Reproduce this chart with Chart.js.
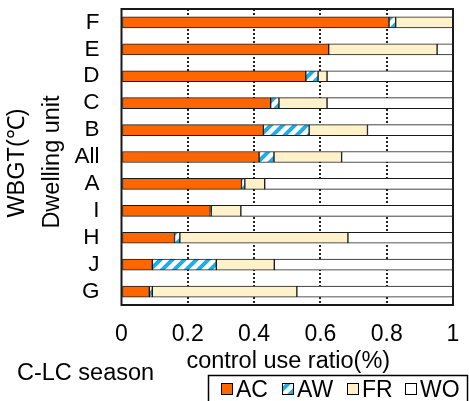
<!DOCTYPE html>
<html>
<head>
<meta charset="utf-8">
<script src="https://cdn.jsdelivr.net/npm/chart.js@4.4.1/dist/chart.umd.min.js"></script>
<style>
  html, body { margin: 0; padding: 0; background: #fff; }
</style>
</head>
<body>
<canvas id="ratioChart" width="469" height="401"></canvas>
<script>
// Dwelling units, top to bottom
const units = ['F', 'E', 'D', 'C', 'B', 'All', 'A', 'I', 'H', 'J', 'G'];
// control use ratio per mode
const acRatio = [0.807, 0.625, 0.556, 0.450, 0.428, 0.415, 0.362, 0.268, 0.160, 0.093, 0.084];
const awRatio = [0.020, 0.000, 0.037, 0.025, 0.138, 0.045, 0.010, 0.003, 0.016, 0.193, 0.009];
const frRatio = [0.173, 0.327, 0.027, 0.145, 0.176, 0.204, 0.060, 0.089, 0.507, 0.175, 0.436];
const woRatio = [0.000, 0.048, 0.380, 0.380, 0.258, 0.336, 0.568, 0.640, 0.317, 0.539, 0.471];
const xTicks = [0, 0.2, 0.4, 0.6, 0.8, 1];
const seriesNames = ['AC', 'AW', 'FR', 'WO'];

const FONT = "'Liberation Sans', Arial, sans-serif";
const canvas = document.getElementById('ratioChart');
const ctx = canvas.getContext('2d');

// --- AW hatch (blue diagonal stripes on white) ---
function stripePattern() {
    const c = document.createElement('canvas');
    c.width = 12; c.height = 12;
    const g = c.getContext('2d');
    g.fillStyle = '#ffffff';
    g.fillRect(0, 0, 12, 12);
    g.strokeStyle = '#1eaee6';
    g.lineWidth = 4;
    g.beginPath();
    g.moveTo(-3, 15); g.lineTo(15, -3);
    g.moveTo(-9, 9); g.lineTo(9, -9);
    g.moveTo(3, 21); g.lineTo(21, 3);
    g.stroke();
    return ctx.createPattern(c, 'repeat');
}
const awFill = stripePattern();
const fills = ['#ff6600', awFill, '#fff1ca', '#ffffff'];

// frame, side titles and boxed legend
const notesPlugin = {
    id: 'notes',
    afterDraw(chart) {
        const c = chart.ctx;
        const a = chart.chartArea;
        c.save();
        c.strokeStyle = '#1a1a1a';
        c.lineWidth = 2;
        c.strokeRect(a.left, a.top, a.right - a.left, a.bottom - a.top);

        c.fillStyle = '#000';
        c.font = '23.5px ' + FONT;
        c.textBaseline = 'alphabetic';

        c.textAlign = 'center';
        c.fillText('control use ratio(%)', (a.left + a.right) / 2 + 1, 368);
        c.textAlign = 'left';
        c.fillText('C-LC season', 17, 380);

        // rotated y titles
        c.save();
        c.translate(59, 162);
        c.rotate(-Math.PI / 2);
        c.textAlign = 'center';
        c.fillText('Dwelling unit', 0, 0);
        c.restore();
        c.save();
        c.translate(24, 163);
        c.rotate(-Math.PI / 2);
        c.textAlign = 'center';
        c.fillText('WBGT(℃)', 0, 0);
        c.restore();

        // legend box
        c.lineWidth = 1.5;
        c.strokeStyle = '#000';
        c.strokeRect(208.5, 375.5, 259, 40);
        c.font = '23px ' + FONT;
        c.textAlign = 'left';
        const boxX = [221, 282, 347, 405];
        seriesNames.forEach((name, i) => {
            const x = boxX[i];
            c.fillStyle = fills[i];
            c.fillRect(x, 383, 12, 12);
            c.lineWidth = 1;
            c.strokeRect(x + 0.5, 383.5, 11, 11);
            c.fillStyle = '#000';
            c.fillText(name, x + 15, 397);
        });
        c.restore();
    }
};

const datasets = [acRatio, awRatio, frRatio, woRatio].map((vals, i) => ({
    label: seriesNames[i],
    data: vals,
    backgroundColor: fills[i],
    borderColor: '#1a1a1a',
    borderWidth: 1,
    borderSkipped: false,
    barThickness: 11
}));

new Chart(ctx, {
    type: 'bar',
    data: { labels: units, datasets: datasets },
    options: {
        indexAxis: 'y',
        responsive: false,
        animation: false,
        layout: { padding: { top: 9, right: 16, bottom: 0, left: 0 } },
        plugins: { legend: { display: false }, tooltip: { enabled: false } },
        scales: {
            x: {
                stacked: true,
                min: 0,
                max: 1,
                afterFit: s => {
                    s.height = 96;
                    s.paddingLeft = 0;
                    s.paddingRight = 0;
                },
                afterBuildTicks: s => { s.ticks = xTicks.map(v => ({ value: v })); },
                grid: {
                    color: g => (g.tick && (g.tick.value === 0 || g.tick.value === 1)) ? 'rgba(0,0,0,0)' : '#222',
                    lineWidth: 2,
                    drawTicks: false
                },
                border: { display: false, dash: [2, 2] },
                ticks: {
                    color: '#000',
                    font: { family: FONT, size: 23 },
                    padding: 16,
                    maxRotation: 0,
                    autoSkip: false,
                    callback: v => String(v)
                }
            },
            y: {
                stacked: true,
                afterFit: s => {
                    s.width = 121.5;
                    s.paddingTop = 0;
                    s.paddingBottom = 0;
                },
                grid: { display: false, drawTicks: false },
                border: { display: false },
                ticks: {
                    color: '#000',
                    font: { family: FONT, size: 22.5 },
                    padding: 22,
                    autoSkip: false
                }
            }
        }
    },
    plugins: [notesPlugin]
});
</script>
</body>
</html>
